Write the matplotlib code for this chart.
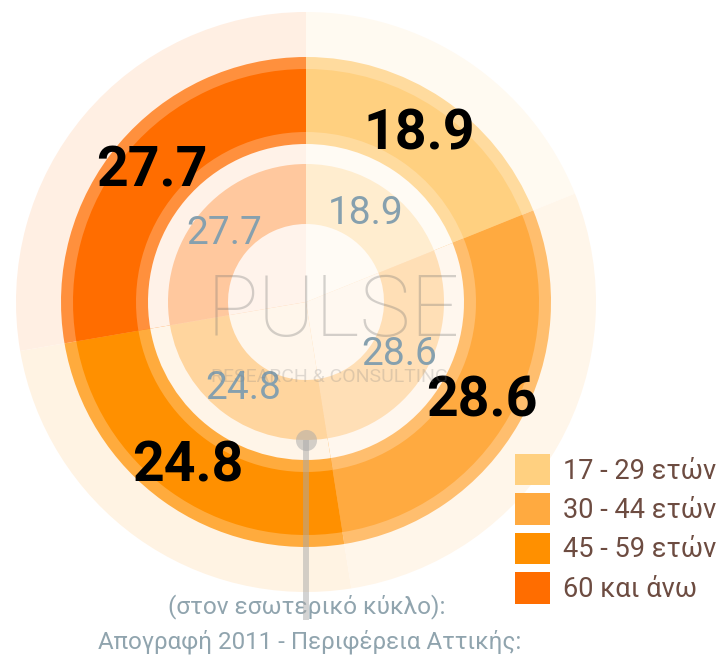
import matplotlib
matplotlib.use("Agg")
import matplotlib.pyplot as plt
import numpy as np
from matplotlib.patches import Patch

plt.rcParams["font.family"] = ["Roboto", "DejaVu Sans"]

# --- data ------------------------------------------------------------------ #
groups = ["17 - 29 ετών", "30 - 44 ετών", "45 - 59 ετών", "60 και άνω"]
survey = [18.9, 28.6, 24.8, 27.7]      # outer ring (bold labels)
census = [18.9, 28.6, 24.8, 27.7]      # inner ring: Απογραφή 2011
colors = ["#ffd080", "#ffaa40", "#ff9000", "#ff6d00"]

note_1 = "(στον εσωτερικό κύκλο):"
note_2 = "Απογραφή 2011 - Περιφέρεια Αττικής:"


def tint(c, a):
    """colour c laid over white with opacity a, as an opaque colour"""
    rgb = np.array(matplotlib.colors.to_rgb(c))
    return tuple(a * rgb + (1 - a) * np.ones(3))


W, H = 722, 661
fig = plt.figure(figsize=(W / 100, H / 100), dpi=100)
ax = fig.add_axes([0, 0, 1, 1])
cx, cy = 306, 359

# rings drawn largest first, each smaller full pie covers the previous one
layers = [  # (radius px, values, opacity)
    (290, survey, 0.11),
    (245, survey, 0.76),
    (233, survey, 1.0),
    (170, survey, 0.76),
    (158, census, 0.09),
    (138, census, 0.38),
    (78, census, 0.08),
]
for r, vals, a in layers:
    ax.pie(vals, radius=r, center=(cx, cy), startangle=90, counterclock=False,
           colors=[tint(c, a) for c in colors],
           wedgeprops=dict(linewidth=0, antialiased=True))


def mid_angles(vals):
    cum = np.cumsum(vals) - np.array(vals) / 2
    return np.deg2rad(90 - 360 * cum / np.sum(vals))


for v, t in zip(survey, mid_angles(survey)):
    ax.text(cx + 202 * np.cos(t), cy + 202 * np.sin(t), f"{v:.1f}",
            ha="center", va="center", fontsize=40, fontweight="bold", color="black")
for v, t in zip(census, mid_angles(census)):
    ax.text(cx + 107 * np.cos(t), cy + 107 * np.sin(t), f"{v:.1f}",
            ha="center", va="center", fontsize=28, color="#86a0ae")

# watermark
ax.text(333, 348, "PULSE", ha="center", va="center", fontsize=62,
        fontweight="light", color="#707070", alpha=0.3)
ax.text(330, 284, "RESEARCH & CONSULTING", ha="center", va="center", fontsize=14,
        color="#808080", alpha=0.25)

# pointer stick to the note
ax.plot([cx, cx], [cy - 138, H - 620], color="#a8a8a8", lw=4.3, alpha=0.5,
        solid_capstyle="butt", zorder=5)
ax.scatter([cx], [cy - 138], s=230, color="#a8a8a8", alpha=0.5, lw=0, zorder=5)

ax.text(307, H - 607, note_1, ha="center", va="center", fontsize=17.6, color="#90a4ae")
ax.text(310, H - 642, note_2, ha="center", va="center", fontsize=17.4, color="#90a4ae")

handles = [Patch(facecolor=c, edgecolor="none") for c in colors]
ax.legend(handles, groups, loc="upper left", bbox_to_anchor=(515 / W, 1 - 454 / H),
          bbox_transform=fig.transFigure, frameon=False, fontsize=19.5,
          labelcolor="#6d4c41", handlelength=1.28, handleheight=1.4,
          handletextpad=0.48, labelspacing=0.3, borderpad=0, borderaxespad=0)

ax.set_xlim(0, W)
ax.set_ylim(0, H)
ax.set_aspect("equal")
ax.axis("off")
fig.savefig("out.png", dpi=100)
